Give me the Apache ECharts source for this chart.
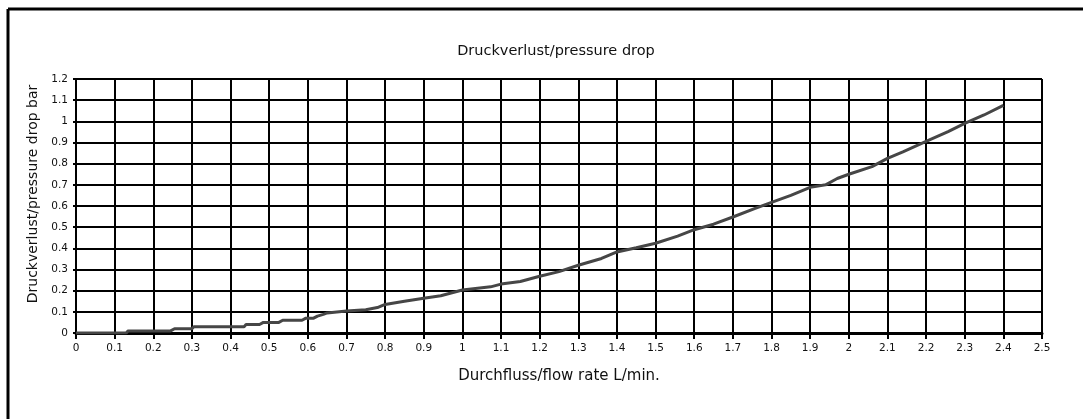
<!DOCTYPE html>
<html>
<head>
<meta charset="utf-8">
<script src="https://cdn.jsdelivr.net/npm/echarts@6/dist/echarts.min.js"></script>
<style>
html,body{margin:0;padding:0;background:#fff;}
#chart{width:1085px;height:419px;}
</style>
</head>
<body>
<div id="chart"></div>
<script>
var titleText = 'Druckverlust/pressure drop';
var xAxisName = 'Durchfluss/flow rate L/min.';
var yAxisName = 'Druckverlust/pressure drop bar';

var flowRate = [0, 0.13, 0.135, 0.245, 0.255, 0.30, 0.305, 0.435, 0.44, 0.475, 0.485, 0.525, 0.535, 0.585, 0.595, 0.615, 0.625, 0.64, 0.65, 0.70, 0.75, 0.78, 0.80, 0.85, 0.90, 0.944, 1.0, 1.073, 1.10, 1.15, 1.2, 1.25, 1.30, 1.36, 1.40, 1.45, 1.5, 1.557, 1.6, 1.65, 1.70, 1.756, 1.80, 1.85, 1.90, 1.94, 1.97, 2.0, 2.06, 2.10, 2.14, 2.2, 2.257, 2.30, 2.35, 2.40];
var pressureDrop = [0, 0, 0.01, 0.01, 0.02, 0.02, 0.03, 0.03, 0.04, 0.04, 0.05, 0.05, 0.06, 0.06, 0.07, 0.07, 0.08, 0.088, 0.095, 0.104, 0.11, 0.12, 0.135, 0.15, 0.164, 0.176, 0.203, 0.218, 0.231, 0.243, 0.268, 0.29, 0.32, 0.352, 0.383, 0.403, 0.424, 0.458, 0.488, 0.514, 0.548, 0.588, 0.617, 0.65, 0.688, 0.70, 0.73, 0.75, 0.786, 0.825, 0.856, 0.905, 0.951, 0.99, 1.03, 1.075];

var seriesData = flowRate.map(function (x, i) { return [x, pressureDrop[i]]; });
var fontFam = 'DejaVu Sans';

var chart = echarts.init(document.getElementById('chart'), null, {renderer: 'canvas'});
chart.setOption({
  animation: false,
  backgroundColor: '#fff',
  title: {
    text: titleText,
    left: 551, top: 39, textAlign: 'center',
    textStyle: {fontFamily: fontFam, fontSize: 14.5, fontWeight: 'normal', color: '#111'}
  },
  grid: {left: 76, right: 43, top: 79, bottom: 86, containLabel: false},
  xAxis: {
    type: 'value', min: 0, max: 2.5, interval: 0.1,
    name: xAxisName, nameLocation: 'middle', nameGap: 36,
    nameTextStyle: {fontFamily: fontFam, fontSize: 15, color: '#111'},
    axisLine: {show: true, lineStyle: {color: '#000', width: 3}},
    axisTick: {show: true, length: 6, lineStyle: {color: '#000', width: 2}},
    axisLabel: {fontFamily: fontFam, fontSize: 10.5, color: '#111', margin: 10},
    splitLine: {show: true, lineStyle: {color: '#000', width: 2}}
  },
  yAxis: {
    type: 'value', min: 0, max: 1.2, interval: 0.1,
    name: yAxisName, nameLocation: 'middle', nameGap: 36, nameRotate: 90,
    nameTextStyle: {fontFamily: fontFam, fontSize: 14, color: '#111', padding: [0, 0, 0, 24]},
    axisLine: {show: true, lineStyle: {color: '#000', width: 2}},
    axisTick: {show: true, length: 3, lineStyle: {color: '#000', width: 2}},
    axisLabel: {fontFamily: fontFam, fontSize: 10.5, color: '#111', margin: 8},
    splitLine: {show: true, lineStyle: {color: '#000', width: 2}}
  },
  graphic: [
    {type: 'line', shape: {x1: 8, y1: 9, x2: 1083, y2: 9}, style: {stroke: '#000', lineWidth: 3}},
    {type: 'line', shape: {x1: 8, y1: 9, x2: 8, y2: 419}, style: {stroke: '#000', lineWidth: 3}}
  ],
  series: [{
    type: 'line',
    data: seriesData,
    showSymbol: false,
    smooth: false,
    lineStyle: {color: '#464646', width: 3},
    z: 5
  }]
});
</script>
</body>
</html>
